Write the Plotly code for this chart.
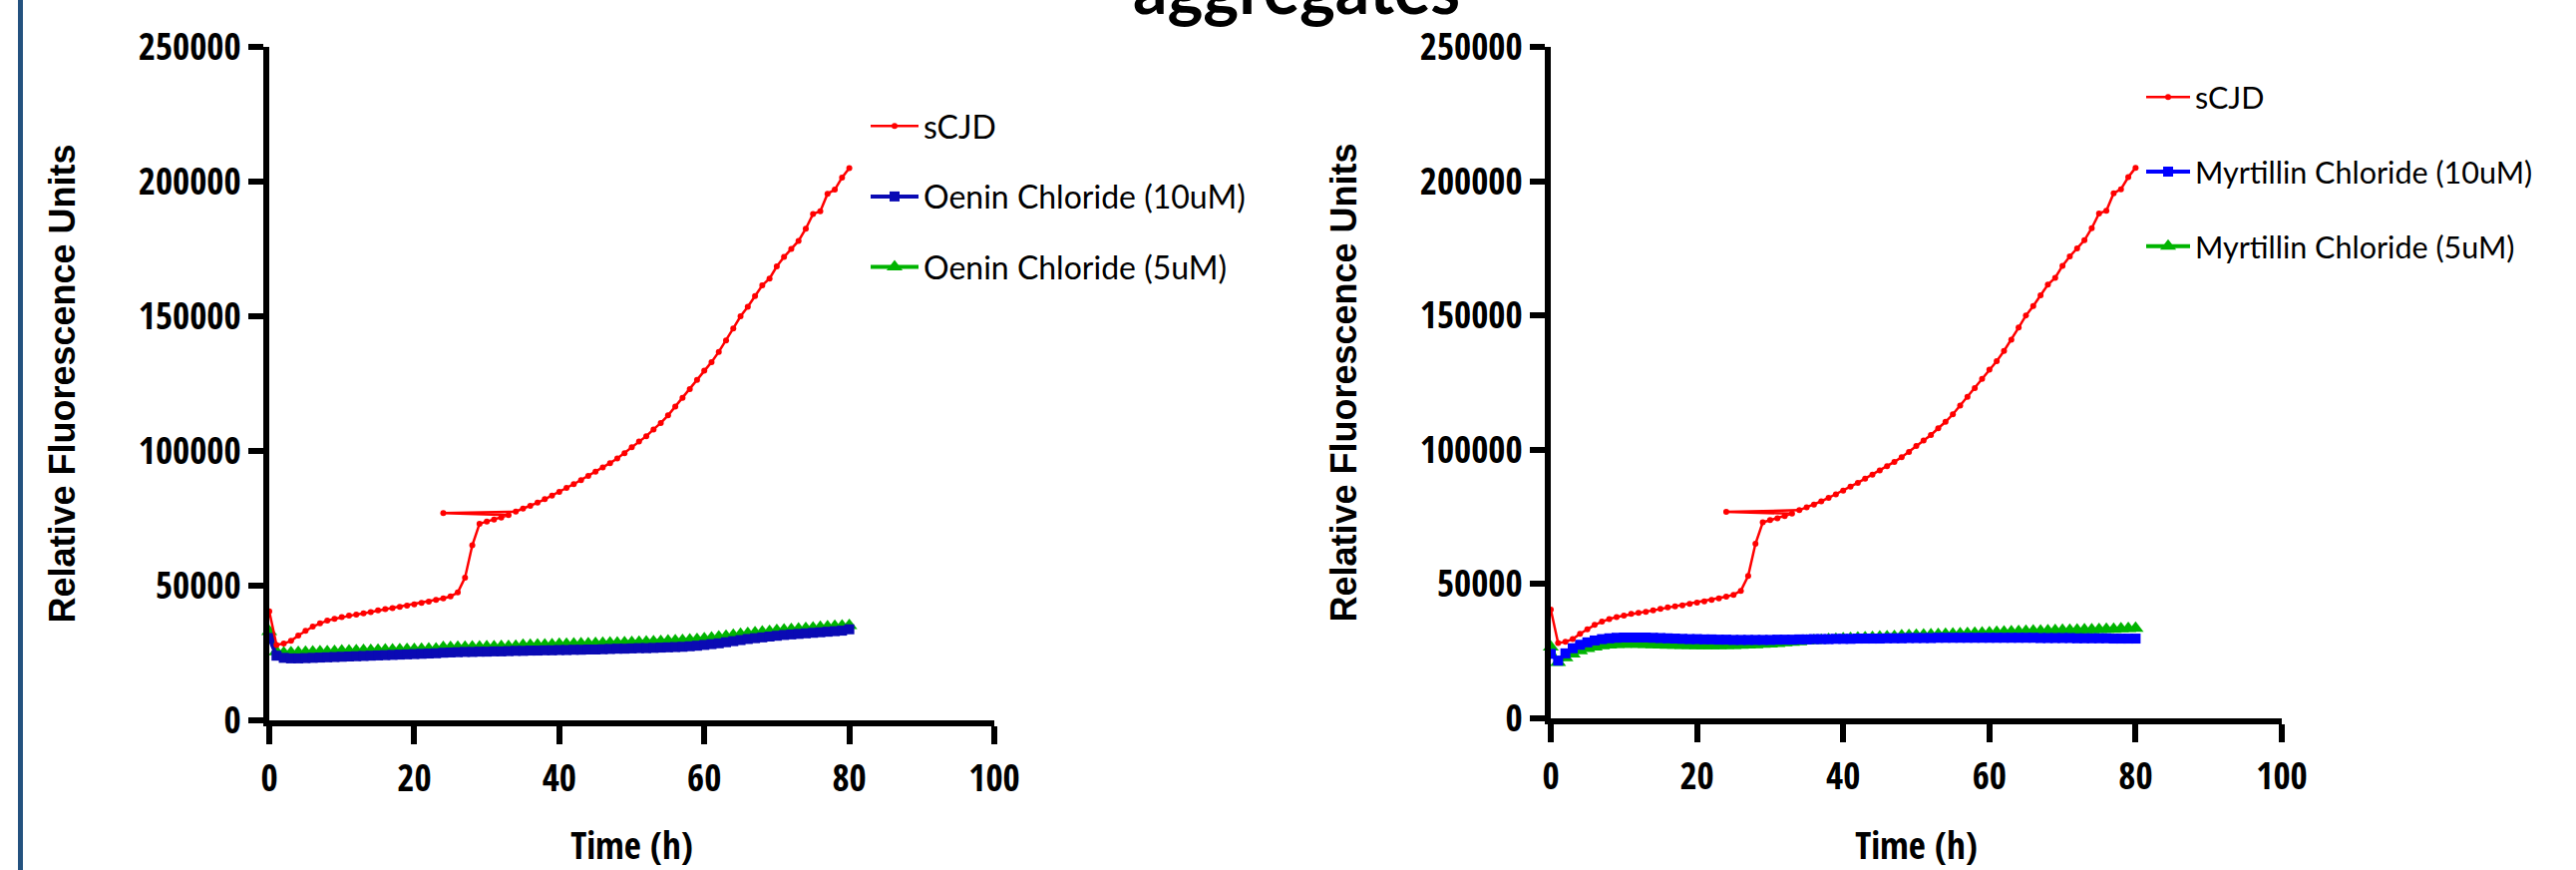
import plotly.graph_objects as go

W, H = 2583, 872

# ---------------- data ----------------
time_h = list(range(0, 81))

# sCJD control (same in both panels); one odd reading at t=24 sits between t=33 and t=34
scjd_time = list(range(0, 34)) + [24] + list(range(34, 81))
scjd_rfu = [
    40500, 28000, 28500, 29500, 31500, 33200, 34800, 36000, 37000, 37700,
    38300, 38900, 39300, 39700, 40200, 40800, 41300, 41700, 42100, 42600,
    43100, 43600, 44100, 44700, 45300, 46000, 47500, 53000, 65000, 73000,
    73800, 74500, 75300, 76200,
    76900,
    77500, 78600, 79600, 80800, 82100, 83400, 84800, 86300, 87700, 89200,
    90700, 92300, 93900, 95500, 97200, 99200, 101400, 103500, 105500, 108000,
    110400, 113200, 116500, 119700, 123000, 126400, 129800, 133000, 136800, 141000,
    145500, 150000, 153500, 157500, 161500, 164000, 168500, 172000, 175000, 178000,
    182500, 188000, 189000, 195500, 197000, 201500, 205000,
]

oenin_10 = [
    30600, 24000, 23200, 23000, 23000, 23100, 23200, 23300, 23400, 23500,
    23600, 23700, 23800, 23900, 24000, 24100, 24200, 24300, 24400, 24500,
    24600, 24700, 24800, 24900, 25100, 25200, 25300, 25400, 25400, 25500,
    25500, 25600, 25600, 25700, 25800, 25800, 25900, 25900, 26000, 26000,
    26100, 26100, 26200, 26200, 26300, 26300, 26400, 26500, 26600, 26600,
    26700, 26800, 26800, 26900, 27000, 27100, 27200, 27300, 27500, 27700,
    28000, 28300, 28600, 29000, 29400, 29800, 30200, 30500, 30800, 31100,
    31400, 31700, 31900, 32100, 32300, 32500, 32700, 32900, 33100, 33300,
    33800,
]
oenin_5 = [
    33000, 25500, 25000, 25100, 25200, 25300, 25400, 25500, 25500, 25600,
    25700, 25700, 25800, 25900, 25900, 26000, 26100, 26100, 26200, 26300,
    26300, 26400, 26500, 26500, 27000, 27000, 27100, 27100, 27200, 27200,
    27300, 27300, 27400, 27400, 27500, 27900, 27900, 28000, 28000, 28100,
    28200, 28200, 28300, 28400, 28400, 28500, 28600, 28700, 28700, 28800,
    28900, 29000, 29100, 29200, 29300, 29400, 29500, 29600, 29800, 30000,
    30300, 30600, 30900, 31200, 31600, 31900, 32200, 32500, 32800, 33000,
    33300, 33500, 33700, 33900, 34100, 34300, 34500, 34700, 34900, 35000,
    35200,
]
myrt_10 = [
    24000, 21500, 24200, 26100, 27400, 28300, 29000, 29500, 29800, 30000,
    30100, 30100, 30100, 30100, 30000, 29900, 29800, 29700, 29600, 29500,
    29500, 29400, 29400, 29300, 29300, 29200, 29200, 29200, 29200, 29200,
    29200, 29300, 29300, 29300, 29400, 29400, 29500, 29500, 29500, 29600,
    29600, 29600, 29700, 29700, 29700, 29700, 29800, 29800, 29800, 29900,
    29900, 29900, 29900, 30000, 30000, 30000, 30000, 30000, 30000, 30000,
    30000, 30000, 30000, 30000, 30000, 30000, 30000, 29900, 29900, 29900,
    29900, 29900, 29800, 29800, 29800, 29800, 29800, 29700, 29700, 29700,
    29700,
]
myrt_5 = [
    26600, 20800, 22600, 24000, 25200, 26000, 26600, 27000, 27300, 27500,
    27600, 27600, 27600, 27500, 27400, 27300, 27200, 27200, 27100, 27100,
    27000, 27000, 27000, 27000, 27100, 27100, 27200, 27300, 27400, 27600,
    27700, 27900, 28100, 28300, 28500, 28800, 29000, 29100, 29300, 29400,
    29600, 29700, 29900, 30000, 30100, 30300, 30400, 30500, 30700, 30800,
    30900, 31000, 31100, 31200, 31300, 31400, 31500, 31600, 31700, 31800,
    31900, 32000, 32100, 32200, 32300, 32400, 32500, 32500, 32600, 32700,
    32800, 32800, 32900, 33000, 33000, 33100, 33200, 33200, 33300, 33400,
    33500,
]

x_ticks = [0, 20, 40, 60, 80, 100]
y_ticks = [0, 50000, 100000, 150000, 200000, 250000]

# ---------------- styling ----------------
RED = "#FF0000"
BLUE_L = "#0A0AB4"
BLUE_R = "#0000FF"
GREEN = "#00B400"
TICK_FONT = dict(family="Open Sans Condensed, Liberation Sans Narrow, Liberation Sans",
                 size=37, color="black", weight="bold")
YTITLE_FONT = dict(family="Liberation Sans", size=36, color="black", weight="bold")
LEG_FONT = dict(family="Lato", size=32, color="black")

fig = go.Figure()


def add_panel(xa, ya, leg, blue_name, green_name, blue_vals, green_vals, blue_col):
    fig.add_trace(go.Scatter(
        x=time_h, y=green_vals, name=green_name, mode="lines+markers",
        line=dict(color=GREEN, width=4), marker=dict(symbol="triangle-up", size=14, color=GREEN),
        xaxis=xa, yaxis=ya, legend=leg, legendgroup=leg + "g", legendrank=3, cliponaxis=False))
    fig.add_trace(go.Scatter(
        x=time_h, y=blue_vals, name=blue_name, mode="lines+markers",
        line=dict(color=blue_col, width=4), marker=dict(symbol="square", size=10, color=blue_col),
        xaxis=xa, yaxis=ya, legend=leg, legendgroup=leg + "b", legendrank=2, cliponaxis=False))
    fig.add_trace(go.Scatter(
        x=scjd_time, y=scjd_rfu, name="sCJD", mode="lines+markers",
        line=dict(color=RED, width=2.5), marker=dict(symbol="circle", size=6, color=RED),
        xaxis=xa, yaxis=ya, legend=leg, legendgroup=leg + "r", legendrank=1, cliponaxis=False))


add_panel("x", "y", "legend", "Oenin Chloride (10uM)", "Oenin Chloride (5uM)", oenin_10, oenin_5, BLUE_L)
add_panel("x2", "y2", "legend2", "Myrtillin Chloride (10uM)", "Myrtillin Chloride (5uM)", myrt_10, myrt_5, BLUE_R)


def xaxis_style(domain, anchor):
    return dict(domain=domain, anchor=anchor, range=[0, 100], tickvals=x_ticks,
                automargin=False,
                showline=True, linewidth=6, linecolor="black", ticks="outside",
                ticklen=18, tickwidth=6, tickcolor="black", showgrid=False, zeroline=False,
                tickfont=TICK_FONT, ticklabelstandoff=3,
                title=dict(text="Time (h)", font=TICK_FONT, standoff=37))


def yaxis_style(domain, anchor):
    return dict(domain=domain, anchor=anchor, range=[0, 250000], tickvals=y_ticks,
                automargin=False,
                tickformat="d", showline=True, linewidth=6, linecolor="black",
                ticks="outside", ticklen=15, tickwidth=6, tickcolor="black",
                showgrid=False, zeroline=False, tickfont=TICK_FONT, ticklabelstandoff=0,
                title=dict(text="Relative Fluorescence Units", font=YTITLE_FONT, standoff=54))


fig.update_layout(
    width=W, height=H,
    margin=dict(l=0, r=0, t=0, b=0, autoexpand=False),
    paper_bgcolor="white", plot_bgcolor="white",
    xaxis=xaxis_style([270 / W, 997 / W], "y"),
    yaxis=yaxis_style([1 - 722 / H, 1 - 47 / H], "x"),
    xaxis2=xaxis_style([1555 / W, 2288 / W], "y2"),
    yaxis2=yaxis_style([1 - 720 / H, 1 - 47 / H], "x2"),
    legend=dict(x=868 / W, y=1 - 99 / H, xanchor="left", yanchor="top",
                font=LEG_FONT, tracegroupgap=26, bgcolor="rgba(0,0,0,0)",
                traceorder="grouped", itemwidth=48),
    legend2=dict(x=2147 / W, y=1 - 71 / H, xanchor="left", yanchor="top",
                 font=dict(LEG_FONT, size=30.5), tracegroupgap=32, bgcolor="rgba(0,0,0,0)",
                 traceorder="grouped", itemwidth=44),
    showlegend=True,
    shapes=[dict(type="rect", xref="paper", yref="paper", x0=18 / W, x1=23 / W,
                 y0=0, y1=1, fillcolor="#24527F", line=dict(width=0), layer="above")],
    annotations=[dict(text="<b>aggregates</b>", xref="paper", yref="paper",
                      x=1300 / W, y=1 + 12 / H, xanchor="center", yanchor="middle",
                      showarrow=False, font=dict(family="Lato", size=68, color="black"))],
)

# remove the browser's default 8px page margin so the figure sits at the page origin
fig.write_html("out.html", config={"displayModeBar": False},
               post_script="document.body.style.margin='0';")
